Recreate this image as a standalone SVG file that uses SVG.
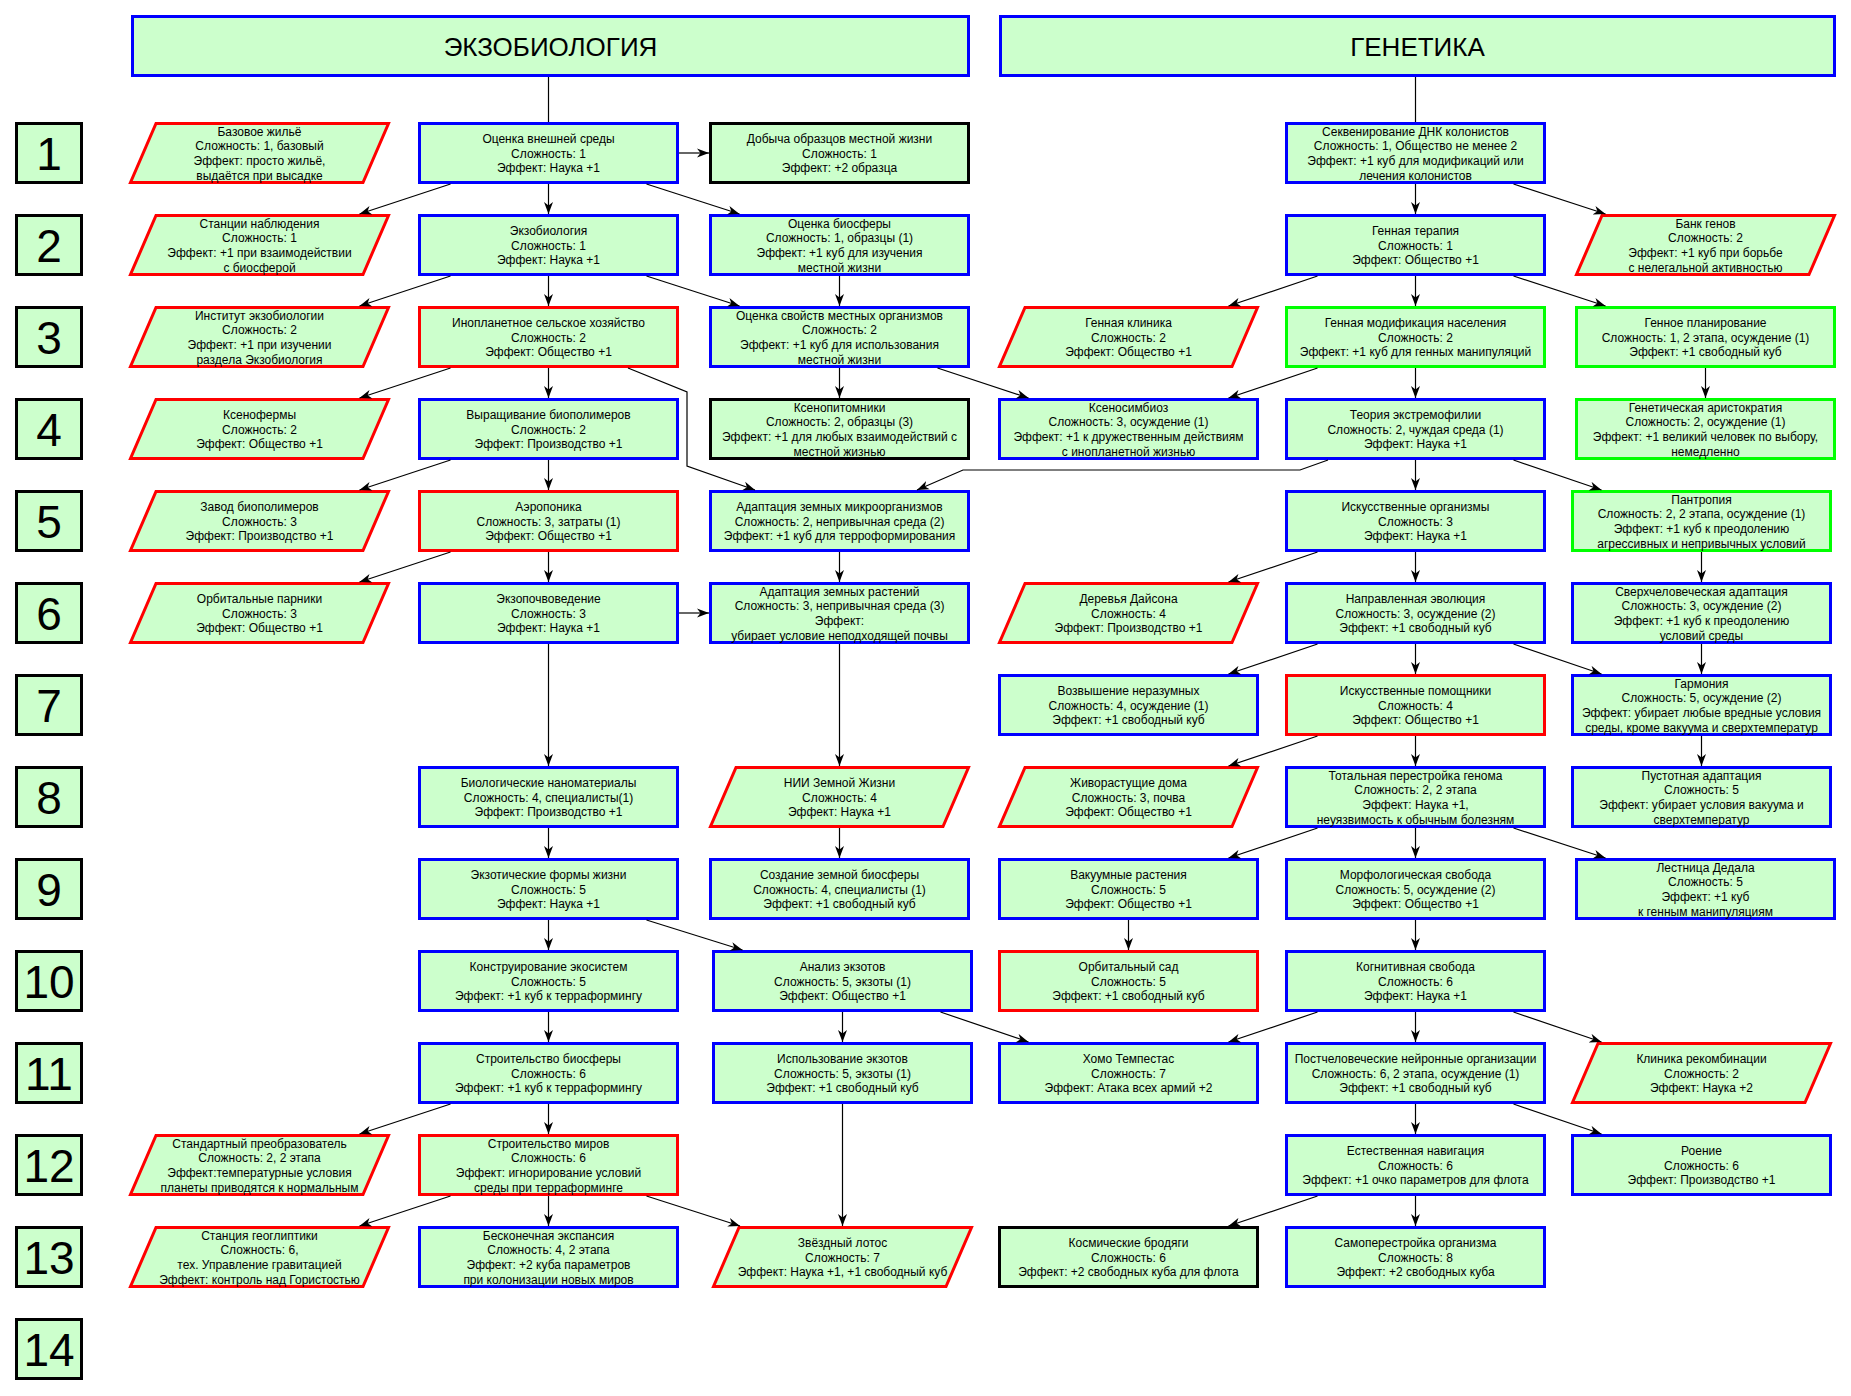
<svg xmlns="http://www.w3.org/2000/svg" width="1851" height="1396" viewBox="0 0 1851 1396">
<style>
.n rect, .n polygon, .rl rect, .hd rect { fill: #CCFFCC; stroke-width: 3; }
.blue rect, .blue polygon { stroke: #0000FF; }
.red rect, .red polygon { stroke: #FF0000; }
.green rect, .green polygon { stroke: #00FF00; }
.black rect, .black polygon, .rl rect { stroke: #000000; }
.hd rect { stroke: #0000FF; }
text { font-family: "Liberation Sans", Arial, sans-serif; text-anchor: middle; fill: #000; }
.n text { font-size: 12px; }
.rl text { font-size: 46px; }
.hd text { font-size: 26px; }
.conn line, .conn polyline { stroke: #000; stroke-width: 1.2; fill: none; }
.conn .a { marker-end: url(#arr); }
</style>
<defs>
<marker id="arr" viewBox="0 0 12 10" refX="12" refY="5" markerWidth="12" markerHeight="10" markerUnits="userSpaceOnUse" orient="auto">
<path d="M0,0.5 L12,5 L0,9.5 L3.5,5 Z" fill="#000"/>
</marker>
</defs>
<rect x="0" y="0" width="1851" height="1396" fill="#FFFFFF"/>

<!-- headers -->
<g id="hdr-exo" class="hd"><rect x="132.5" y="16.5" width="836" height="59"/><text x="550.5" y="55.5">ЭКЗОБИОЛОГИЯ</text></g>
<g id="hdr-gen" class="hd"><rect x="1000.5" y="16.5" width="834" height="59"/><text x="1417.5" y="55.5">ГЕНЕТИКА</text></g>

<!-- row labels -->
<g id="row1" class="rl"><rect x="16.5" y="123.5" width="65" height="59"/><text x="49" y="169.5">1</text></g>
<g id="row2" class="rl"><rect x="16.5" y="215.5" width="65" height="59"/><text x="49" y="261.5">2</text></g>
<g id="row3" class="rl"><rect x="16.5" y="307.5" width="65" height="59"/><text x="49" y="353.5">3</text></g>
<g id="row4" class="rl"><rect x="16.5" y="399.5" width="65" height="59"/><text x="49" y="445.5">4</text></g>
<g id="row5" class="rl"><rect x="16.5" y="491.5" width="65" height="59"/><text x="49" y="537.5">5</text></g>
<g id="row6" class="rl"><rect x="16.5" y="583.5" width="65" height="59"/><text x="49" y="629.5">6</text></g>
<g id="row7" class="rl"><rect x="16.5" y="675.5" width="65" height="59"/><text x="49" y="721.5">7</text></g>
<g id="row8" class="rl"><rect x="16.5" y="767.5" width="65" height="59"/><text x="49" y="813.5">8</text></g>
<g id="row9" class="rl"><rect x="16.5" y="859.5" width="65" height="59"/><text x="49" y="905.5">9</text></g>
<g id="row10" class="rl"><rect x="16.5" y="951.5" width="65" height="59"/><text x="49" y="997.5">10</text></g>
<g id="row11" class="rl"><rect x="16.5" y="1043.5" width="65" height="59"/><text x="49" y="1089.5">11</text></g>
<g id="row12" class="rl"><rect x="16.5" y="1135.5" width="65" height="59"/><text x="49" y="1181.5">12</text></g>
<g id="row13" class="rl"><rect x="16.5" y="1227.5" width="65" height="59"/><text x="49" y="1273.5">13</text></g>
<g id="row14" class="rl"><rect x="16.5" y="1319.5" width="65" height="59"/><text x="49" y="1365.5">14</text></g>

<!-- row 1 -->
<g id="A1" class="n red"><polygon points="156,123.5 388.5,123.5 363,182.5 130.5,182.5"/><text y="135.55"><tspan x="259.5">Базовое жильё</tspan><tspan x="259.5" dy="14.7">Сложность: 1, базовый</tspan><tspan x="259.5" dy="14.7">Эффект: просто жильё,</tspan><tspan x="259.5" dy="14.7">выдаётся при высадке</tspan></text></g>
<g id="B1" class="n blue"><rect x="419.5" y="123.5" width="258" height="59"/><text y="142.9"><tspan x="548.5">Оценка внешней среды</tspan><tspan x="548.5" dy="14.7">Сложность: 1</tspan><tspan x="548.5" dy="14.7">Эффект: Наука +1</tspan></text></g>
<g id="C1" class="n black"><rect x="710.5" y="123.5" width="258" height="59"/><text y="142.9"><tspan x="839.5">Добыча образцов местной жизни</tspan><tspan x="839.5" dy="14.7">Сложность: 1</tspan><tspan x="839.5" dy="14.7">Эффект: +2 образца</tspan></text></g>
<g id="E1" class="n blue"><rect x="1286.5" y="123.5" width="258" height="59"/><text y="135.55"><tspan x="1415.5">Секвенирование ДНК колонистов</tspan><tspan x="1415.5" dy="14.7">Сложность: 1, Общество не менее 2</tspan><tspan x="1415.5" dy="14.7">Эффект: +1 куб для модификаций или</tspan><tspan x="1415.5" dy="14.7">лечения колонистов</tspan></text></g>

<!-- row 2 -->
<g id="A2" class="n red"><polygon points="156,215.5 388.5,215.5 363,274.5 130.5,274.5"/><text y="227.55"><tspan x="259.5">Станции наблюдения</tspan><tspan x="259.5" dy="14.7">Сложность: 1</tspan><tspan x="259.5" dy="14.7">Эффект: +1 при взаимодействии</tspan><tspan x="259.5" dy="14.7">с биосферой</tspan></text></g>
<g id="B2" class="n blue"><rect x="419.5" y="215.5" width="258" height="59"/><text y="234.9"><tspan x="548.5">Экзобиология</tspan><tspan x="548.5" dy="14.7">Сложность: 1</tspan><tspan x="548.5" dy="14.7">Эффект: Наука +1</tspan></text></g>
<g id="C2" class="n blue"><rect x="710.5" y="215.5" width="258" height="59"/><text y="227.55"><tspan x="839.5">Оценка биосферы</tspan><tspan x="839.5" dy="14.7">Сложность: 1, образцы (1)</tspan><tspan x="839.5" dy="14.7">Эффект: +1 куб для изучения</tspan><tspan x="839.5" dy="14.7">местной жизни</tspan></text></g>
<g id="E2" class="n blue"><rect x="1286.5" y="215.5" width="258" height="59"/><text y="234.9"><tspan x="1415.5">Генная терапия</tspan><tspan x="1415.5" dy="14.7">Сложность: 1</tspan><tspan x="1415.5" dy="14.7">Эффект: Общество +1</tspan></text></g>
<g id="F2" class="n red"><polygon points="1602,215.5 1834.5,215.5 1809,274.5 1576.5,274.5"/><text y="227.55"><tspan x="1705.5">Банк генов</tspan><tspan x="1705.5" dy="14.7">Сложность: 2</tspan><tspan x="1705.5" dy="14.7">Эффект: +1 куб при борьбе</tspan><tspan x="1705.5" dy="14.7">с нелегальной активностью</tspan></text></g>

<!-- row 3 -->
<g id="A3" class="n red"><polygon points="156,307.5 388.5,307.5 363,366.5 130.5,366.5"/><text y="319.55"><tspan x="259.5">Институт экзобиологии</tspan><tspan x="259.5" dy="14.7">Сложность: 2</tspan><tspan x="259.5" dy="14.7">Эффект: +1 при изучении</tspan><tspan x="259.5" dy="14.7">раздела Экзобиология</tspan></text></g>
<g id="B3" class="n red"><rect x="419.5" y="307.5" width="258" height="59"/><text y="326.9"><tspan x="548.5">Инопланетное сельское хозяйство</tspan><tspan x="548.5" dy="14.7">Сложность: 2</tspan><tspan x="548.5" dy="14.7">Эффект: Общество +1</tspan></text></g>
<g id="C3" class="n blue"><rect x="710.5" y="307.5" width="258" height="59"/><text y="319.55"><tspan x="839.5">Оценка свойств местных организмов</tspan><tspan x="839.5" dy="14.7">Сложность: 2</tspan><tspan x="839.5" dy="14.7">Эффект: +1 куб для использования</tspan><tspan x="839.5" dy="14.7">местной жизни</tspan></text></g>
<g id="D3" class="n red"><polygon points="1025,307.5 1257.5,307.5 1232,366.5 999.5,366.5"/><text y="326.9"><tspan x="1128.5">Генная клиника</tspan><tspan x="1128.5" dy="14.7">Сложность: 2</tspan><tspan x="1128.5" dy="14.7">Эффект: Общество +1</tspan></text></g>
<g id="E3" class="n green"><rect x="1286.5" y="307.5" width="258" height="59"/><text y="326.9"><tspan x="1415.5">Генная модификация населения</tspan><tspan x="1415.5" dy="14.7">Сложность: 2</tspan><tspan x="1415.5" dy="14.7">Эффект: +1 куб для генных манипуляций</tspan></text></g>
<g id="F3" class="n green"><rect x="1576.5" y="307.5" width="258" height="59"/><text y="326.9"><tspan x="1705.5">Генное планирование</tspan><tspan x="1705.5" dy="14.7">Сложность: 1, 2 этапа, осуждение (1)</tspan><tspan x="1705.5" dy="14.7">Эффект: +1 свободный куб</tspan></text></g>

<!-- row 4 -->
<g id="A4" class="n red"><polygon points="156,399.5 388.5,399.5 363,458.5 130.5,458.5"/><text y="418.9"><tspan x="259.5">Ксенофермы</tspan><tspan x="259.5" dy="14.7">Сложность: 2</tspan><tspan x="259.5" dy="14.7">Эффект: Общество +1</tspan></text></g>
<g id="B4" class="n blue"><rect x="419.5" y="399.5" width="258" height="59"/><text y="418.9"><tspan x="548.5">Выращивание биополимеров</tspan><tspan x="548.5" dy="14.7">Сложность: 2</tspan><tspan x="548.5" dy="14.7">Эффект: Производство +1</tspan></text></g>
<g id="C4" class="n black"><rect x="710.5" y="399.5" width="258" height="59"/><text y="411.55"><tspan x="839.5">Ксенопитомники</tspan><tspan x="839.5" dy="14.7">Сложность: 2, образцы (3)</tspan><tspan x="839.5" dy="14.7">Эффект: +1 для любых взаимодействий с</tspan><tspan x="839.5" dy="14.7">местной жизнью</tspan></text></g>
<g id="D4" class="n blue"><rect x="999.5" y="399.5" width="258" height="59"/><text y="411.55"><tspan x="1128.5">Ксеносимбиоз</tspan><tspan x="1128.5" dy="14.7">Сложность: 3, осуждение (1)</tspan><tspan x="1128.5" dy="14.7">Эффект: +1 к дружественным действиям</tspan><tspan x="1128.5" dy="14.7">с инопланетной жизнью</tspan></text></g>
<g id="E4" class="n blue"><rect x="1286.5" y="399.5" width="258" height="59"/><text y="418.9"><tspan x="1415.5">Теория экстремофилии</tspan><tspan x="1415.5" dy="14.7">Сложность: 2, чуждая среда (1)</tspan><tspan x="1415.5" dy="14.7">Эффект: Наука +1</tspan></text></g>
<g id="F4" class="n green"><rect x="1576.5" y="399.5" width="258" height="59"/><text y="411.55"><tspan x="1705.5">Генетическая аристократия</tspan><tspan x="1705.5" dy="14.7">Сложность: 2, осуждение (1)</tspan><tspan x="1705.5" dy="14.7">Эффект: +1 великий человек по выбору,</tspan><tspan x="1705.5" dy="14.7">немедленно</tspan></text></g>

<!-- row 5 -->
<g id="A5" class="n red"><polygon points="156,491.5 388.5,491.5 363,550.5 130.5,550.5"/><text y="510.9"><tspan x="259.5">Завод биополимеров</tspan><tspan x="259.5" dy="14.7">Сложность: 3</tspan><tspan x="259.5" dy="14.7">Эффект: Производство +1</tspan></text></g>
<g id="B5" class="n red"><rect x="419.5" y="491.5" width="258" height="59"/><text y="510.9"><tspan x="548.5">Аэропоника</tspan><tspan x="548.5" dy="14.7">Сложность: 3, затраты (1)</tspan><tspan x="548.5" dy="14.7">Эффект: Общество +1</tspan></text></g>
<g id="C5" class="n blue"><rect x="710.5" y="491.5" width="258" height="59"/><text y="510.9"><tspan x="839.5">Адаптация земных микроорганизмов</tspan><tspan x="839.5" dy="14.7">Сложность: 2, непривычная среда (2)</tspan><tspan x="839.5" dy="14.7">Эффект: +1 куб для терроформирования</tspan></text></g>
<g id="E5" class="n blue"><rect x="1286.5" y="491.5" width="258" height="59"/><text y="510.9"><tspan x="1415.5">Искусственные организмы</tspan><tspan x="1415.5" dy="14.7">Сложность: 3</tspan><tspan x="1415.5" dy="14.7">Эффект: Наука +1</tspan></text></g>
<g id="F5" class="n green"><rect x="1572.5" y="491.5" width="258" height="59"/><text y="503.55"><tspan x="1701.5">Пантропия</tspan><tspan x="1701.5" dy="14.7">Сложность: 2, 2 этапа, осуждение (1)</tspan><tspan x="1701.5" dy="14.7">Эффект: +1 куб к преодолению</tspan><tspan x="1701.5" dy="14.7">агрессивных и непривычных условий</tspan></text></g>

<!-- row 6 -->
<g id="A6" class="n red"><polygon points="156,583.5 388.5,583.5 363,642.5 130.5,642.5"/><text y="602.9"><tspan x="259.5">Орбитальные парники</tspan><tspan x="259.5" dy="14.7">Сложность: 3</tspan><tspan x="259.5" dy="14.7">Эффект: Общество +1</tspan></text></g>
<g id="B6" class="n blue"><rect x="419.5" y="583.5" width="258" height="59"/><text y="602.9"><tspan x="548.5">Экзопочвоведение</tspan><tspan x="548.5" dy="14.7">Сложность: 3</tspan><tspan x="548.5" dy="14.7">Эффект: Наука +1</tspan></text></g>
<g id="C6" class="n blue"><rect x="710.5" y="583.5" width="258" height="59"/><text y="595.55"><tspan x="839.5">Адаптация земных растений</tspan><tspan x="839.5" dy="14.7">Сложность: 3, непривычная среда (3)</tspan><tspan x="839.5" dy="14.7">Эффект:</tspan><tspan x="839.5" dy="14.7">убирает условие неподходящей почвы</tspan></text></g>
<g id="D6" class="n red"><polygon points="1025,583.5 1257.5,583.5 1232,642.5 999.5,642.5"/><text y="602.9"><tspan x="1128.5">Деревья Дайсона</tspan><tspan x="1128.5" dy="14.7">Сложность: 4</tspan><tspan x="1128.5" dy="14.7">Эффект: Производство +1</tspan></text></g>
<g id="E6" class="n blue"><rect x="1286.5" y="583.5" width="258" height="59"/><text y="602.9"><tspan x="1415.5">Направленная эволюция</tspan><tspan x="1415.5" dy="14.7">Сложность: 3, осуждение (2)</tspan><tspan x="1415.5" dy="14.7">Эффект: +1 свободный куб</tspan></text></g>
<g id="F6" class="n blue"><rect x="1572.5" y="583.5" width="258" height="59"/><text y="595.55"><tspan x="1701.5">Сверхчеловеческая адаптация</tspan><tspan x="1701.5" dy="14.7">Сложность: 3, осуждение (2)</tspan><tspan x="1701.5" dy="14.7">Эффект: +1 куб к преодолению</tspan><tspan x="1701.5" dy="14.7">условий среды</tspan></text></g>

<!-- row 7 -->
<g id="D7" class="n blue"><rect x="999.5" y="675.5" width="258" height="59"/><text y="694.9"><tspan x="1128.5">Возвышение неразумных</tspan><tspan x="1128.5" dy="14.7">Сложность: 4, осуждение (1)</tspan><tspan x="1128.5" dy="14.7">Эффект: +1 свободный куб</tspan></text></g>
<g id="E7" class="n red"><rect x="1286.5" y="675.5" width="258" height="59"/><text y="694.9"><tspan x="1415.5">Искусственные помощники</tspan><tspan x="1415.5" dy="14.7">Сложность: 4</tspan><tspan x="1415.5" dy="14.7">Эффект: Общество +1</tspan></text></g>
<g id="F7" class="n blue"><rect x="1572.5" y="675.5" width="258" height="59"/><text y="687.55"><tspan x="1701.5">Гармония</tspan><tspan x="1701.5" dy="14.7">Сложность: 5, осуждение (2)</tspan><tspan x="1701.5" dy="14.7">Эффект: убирает любые вредные условия</tspan><tspan x="1701.5" dy="14.7">среды, кроме вакуума и сверхтемператур</tspan></text></g>

<!-- row 8 -->
<g id="B8" class="n blue"><rect x="419.5" y="767.5" width="258" height="59"/><text y="786.9"><tspan x="548.5">Биологические наноматериалы</tspan><tspan x="548.5" dy="14.7">Сложность: 4, специалисты(1)</tspan><tspan x="548.5" dy="14.7">Эффект: Производство +1</tspan></text></g>
<g id="C8" class="n red"><polygon points="736,767.5 968.5,767.5 943,826.5 710.5,826.5"/><text y="786.9"><tspan x="839.5">НИИ Земной Жизни</tspan><tspan x="839.5" dy="14.7">Сложность: 4</tspan><tspan x="839.5" dy="14.7">Эффект: Наука +1</tspan></text></g>
<g id="D8" class="n red"><polygon points="1025,767.5 1257.5,767.5 1232,826.5 999.5,826.5"/><text y="786.9"><tspan x="1128.5">Живорастущие дома</tspan><tspan x="1128.5" dy="14.7">Сложность: 3, почва</tspan><tspan x="1128.5" dy="14.7">Эффект: Общество +1</tspan></text></g>
<g id="E8" class="n blue"><rect x="1286.5" y="767.5" width="258" height="59"/><text y="779.55"><tspan x="1415.5">Тотальная перестройка генома</tspan><tspan x="1415.5" dy="14.7">Сложность: 2, 2 этапа</tspan><tspan x="1415.5" dy="14.7">Эффект: Наука +1,</tspan><tspan x="1415.5" dy="14.7">неуязвимость к обычным болезням</tspan></text></g>
<g id="F8" class="n blue"><rect x="1572.5" y="767.5" width="258" height="59"/><text y="779.55"><tspan x="1701.5">Пустотная адаптация</tspan><tspan x="1701.5" dy="14.7">Сложность: 5</tspan><tspan x="1701.5" dy="14.7">Эффект: убирает условия вакуума и</tspan><tspan x="1701.5" dy="14.7">сверхтемператур</tspan></text></g>

<!-- row 9 -->
<g id="B9" class="n blue"><rect x="419.5" y="859.5" width="258" height="59"/><text y="878.9"><tspan x="548.5">Экзотические формы жизни</tspan><tspan x="548.5" dy="14.7">Сложность: 5</tspan><tspan x="548.5" dy="14.7">Эффект: Наука +1</tspan></text></g>
<g id="C9" class="n blue"><rect x="710.5" y="859.5" width="258" height="59"/><text y="878.9"><tspan x="839.5">Создание земной биосферы</tspan><tspan x="839.5" dy="14.7">Сложность: 4, специалисты (1)</tspan><tspan x="839.5" dy="14.7">Эффект: +1 свободный куб</tspan></text></g>
<g id="D9" class="n blue"><rect x="999.5" y="859.5" width="258" height="59"/><text y="878.9"><tspan x="1128.5">Вакуумные растения</tspan><tspan x="1128.5" dy="14.7">Сложность: 5</tspan><tspan x="1128.5" dy="14.7">Эффект: Общество +1</tspan></text></g>
<g id="E9" class="n blue"><rect x="1286.5" y="859.5" width="258" height="59"/><text y="878.9"><tspan x="1415.5">Морфологическая свобода</tspan><tspan x="1415.5" dy="14.7">Сложность: 5, осуждение (2)</tspan><tspan x="1415.5" dy="14.7">Эффект: Общество +1</tspan></text></g>
<g id="F9" class="n blue"><rect x="1576.5" y="859.5" width="258" height="59"/><text y="871.55"><tspan x="1705.5">Лестница Дедала</tspan><tspan x="1705.5" dy="14.7">Сложность: 5</tspan><tspan x="1705.5" dy="14.7">Эффект: +1 куб</tspan><tspan x="1705.5" dy="14.7">к генным манипуляциям</tspan></text></g>

<!-- row 10 -->
<g id="B10" class="n blue"><rect x="419.5" y="951.5" width="258" height="59"/><text y="970.9"><tspan x="548.5">Конструирование экосистем</tspan><tspan x="548.5" dy="14.7">Сложность: 5</tspan><tspan x="548.5" dy="14.7">Эффект: +1 куб к терраформингу</tspan></text></g>
<g id="C10" class="n blue"><rect x="713.5" y="951.5" width="258" height="59"/><text y="970.9"><tspan x="842.5">Анализ экзотов</tspan><tspan x="842.5" dy="14.7">Сложность: 5, экзоты (1)</tspan><tspan x="842.5" dy="14.7">Эффект: Общество +1</tspan></text></g>
<g id="D10" class="n red"><rect x="999.5" y="951.5" width="258" height="59"/><text y="970.9"><tspan x="1128.5">Орбитальный сад</tspan><tspan x="1128.5" dy="14.7">Сложность: 5</tspan><tspan x="1128.5" dy="14.7">Эффект: +1 свободный куб</tspan></text></g>
<g id="E10" class="n blue"><rect x="1286.5" y="951.5" width="258" height="59"/><text y="970.9"><tspan x="1415.5">Когнитивная свобода</tspan><tspan x="1415.5" dy="14.7">Сложность: 6</tspan><tspan x="1415.5" dy="14.7">Эффект: Наука +1</tspan></text></g>

<!-- row 11 -->
<g id="B11" class="n blue"><rect x="419.5" y="1043.5" width="258" height="59"/><text y="1062.9"><tspan x="548.5">Строительство биосферы</tspan><tspan x="548.5" dy="14.7">Сложность: 6</tspan><tspan x="548.5" dy="14.7">Эффект: +1 куб к терраформингу</tspan></text></g>
<g id="C11" class="n blue"><rect x="713.5" y="1043.5" width="258" height="59"/><text y="1062.9"><tspan x="842.5">Использование экзотов</tspan><tspan x="842.5" dy="14.7">Сложность: 5, экзоты (1)</tspan><tspan x="842.5" dy="14.7">Эффект: +1 свободный куб</tspan></text></g>
<g id="D11" class="n blue"><rect x="999.5" y="1043.5" width="258" height="59"/><text y="1062.9"><tspan x="1128.5">Хомо Темпестас</tspan><tspan x="1128.5" dy="14.7">Сложность: 7</tspan><tspan x="1128.5" dy="14.7">Эффект: Атака всех армий +2</tspan></text></g>
<g id="E11" class="n blue"><rect x="1286.5" y="1043.5" width="258" height="59"/><text y="1062.9"><tspan x="1415.5">Постчеловеческие нейронные организации</tspan><tspan x="1415.5" dy="14.7">Сложность: 6, 2 этапа, осуждение (1)</tspan><tspan x="1415.5" dy="14.7">Эффект: +1 свободный куб</tspan></text></g>
<g id="F11" class="n red"><polygon points="1598,1043.5 1830.5,1043.5 1805,1102.5 1572.5,1102.5"/><text y="1062.9"><tspan x="1701.5">Клиника рекомбинации</tspan><tspan x="1701.5" dy="14.7">Сложность: 2</tspan><tspan x="1701.5" dy="14.7">Эффект: Наука +2</tspan></text></g>

<!-- row 12 -->
<g id="A12" class="n red"><polygon points="156,1135.5 388.5,1135.5 363,1194.5 130.5,1194.5"/><text y="1147.55"><tspan x="259.5">Стандартный преобразователь</tspan><tspan x="259.5" dy="14.7">Сложность: 2, 2 этапа</tspan><tspan x="259.5" dy="14.7">Эффект:температурные условия</tspan><tspan x="259.5" dy="14.7">планеты приводятся к нормальным</tspan></text></g>
<g id="B12" class="n red"><rect x="419.5" y="1135.5" width="258" height="59"/><text y="1147.55"><tspan x="548.5">Строительство миров</tspan><tspan x="548.5" dy="14.7">Сложность: 6</tspan><tspan x="548.5" dy="14.7">Эффект: игнорирование условий</tspan><tspan x="548.5" dy="14.7">среды при терраформинге</tspan></text></g>
<g id="E12" class="n blue"><rect x="1286.5" y="1135.5" width="258" height="59"/><text y="1154.9"><tspan x="1415.5">Естественная навигация</tspan><tspan x="1415.5" dy="14.7">Сложность: 6</tspan><tspan x="1415.5" dy="14.7">Эффект: +1 очко параметров для флота</tspan></text></g>
<g id="F12" class="n blue"><rect x="1572.5" y="1135.5" width="258" height="59"/><text y="1154.9"><tspan x="1701.5">Роение</tspan><tspan x="1701.5" dy="14.7">Сложность: 6</tspan><tspan x="1701.5" dy="14.7">Эффект: Производство +1</tspan></text></g>

<!-- row 13 -->
<g id="A13" class="n red"><polygon points="156,1227.5 388.5,1227.5 363,1286.5 130.5,1286.5"/><text y="1239.55"><tspan x="259.5">Станция геоглиптики</tspan><tspan x="259.5" dy="14.7">Сложность: 6,</tspan><tspan x="259.5" dy="14.7">тех. Управление гравитацией</tspan><tspan x="259.5" dy="14.7">Эффект: контроль над Гористостью</tspan></text></g>
<g id="B13" class="n blue"><rect x="419.5" y="1227.5" width="258" height="59"/><text y="1239.55"><tspan x="548.5">Бесконечная экспансия</tspan><tspan x="548.5" dy="14.7">Сложность: 4, 2 этапа</tspan><tspan x="548.5" dy="14.7">Эффект: +2 куба параметров</tspan><tspan x="548.5" dy="14.7">при колонизации новых миров</tspan></text></g>
<g id="C13" class="n red"><polygon points="739,1227.5 971.5,1227.5 946,1286.5 713.5,1286.5"/><text y="1246.9"><tspan x="842.5">Звёздный лотос</tspan><tspan x="842.5" dy="14.7">Сложность: 7</tspan><tspan x="842.5" dy="14.7">Эффект: Наука +1, +1 свободный куб</tspan></text></g>
<g id="D13" class="n black"><rect x="999.5" y="1227.5" width="258" height="59"/><text y="1246.9"><tspan x="1128.5">Космические бродяги</tspan><tspan x="1128.5" dy="14.7">Сложность: 6</tspan><tspan x="1128.5" dy="14.7">Эффект: +2 свободных куба для флота</tspan></text></g>
<g id="E13" class="n blue"><rect x="1286.5" y="1227.5" width="258" height="59"/><text y="1246.9"><tspan x="1415.5">Самоперестройка организма</tspan><tspan x="1415.5" dy="14.7">Сложность: 8</tspan><tspan x="1415.5" dy="14.7">Эффект: +2 свободных куба</tspan></text></g>

<!-- connectors -->
<g id="connectors" class="conn">
<line x1="548.5" y1="77" x2="548.5" y2="122"/>
<line x1="1415.5" y1="77" x2="1415.5" y2="122"/>
<line class="a" x1="679" y1="153" x2="709" y2="153"/>
<line class="a" x1="450.5" y1="184" x2="359.5" y2="214"/>
<line class="a" x1="548.5" y1="184" x2="548.5" y2="214"/>
<line class="a" x1="646.5" y1="184" x2="739.5" y2="214"/>
<line class="a" x1="450.5" y1="276" x2="359.5" y2="306"/>
<line class="a" x1="548.5" y1="276" x2="548.5" y2="306"/>
<line class="a" x1="646.5" y1="276" x2="739.5" y2="306"/>
<line class="a" x1="839.5" y1="276" x2="839.5" y2="306"/>
<line class="a" x1="450.5" y1="368" x2="359.5" y2="398"/>
<line class="a" x1="548.5" y1="368" x2="548.5" y2="398"/>
<polyline class="a" points="628,368 687,392 687,466 755,490"/>
<line class="a" x1="839.5" y1="368" x2="839.5" y2="398"/>
<line class="a" x1="937.5" y1="368" x2="1028.5" y2="398"/>
<line class="a" x1="1415.5" y1="184" x2="1415.5" y2="214"/>
<line class="a" x1="1513.5" y1="184" x2="1605.5" y2="214"/>
<line class="a" x1="1317.5" y1="276" x2="1228.5" y2="306"/>
<line class="a" x1="1415.5" y1="276" x2="1415.5" y2="306"/>
<line class="a" x1="1513.5" y1="276" x2="1605.5" y2="306"/>
<line class="a" x1="1317.5" y1="368" x2="1228.5" y2="398"/>
<line class="a" x1="1415.5" y1="368" x2="1415.5" y2="398"/>
<line class="a" x1="1705.5" y1="368" x2="1705.5" y2="398"/>
<line class="a" x1="450.5" y1="460" x2="359.5" y2="490"/>
<line class="a" x1="548.5" y1="460" x2="548.5" y2="490"/>
<polyline class="a" points="1328,460 1300,470 963,470 917,490"/>
<line class="a" x1="1415.5" y1="460" x2="1415.5" y2="490"/>
<line class="a" x1="1513.5" y1="460" x2="1601.5" y2="490"/>
<line class="a" x1="450.5" y1="552" x2="359.5" y2="582"/>
<line class="a" x1="548.5" y1="552" x2="548.5" y2="582"/>
<line class="a" x1="839.5" y1="552" x2="839.5" y2="582"/>
<line class="a" x1="1317.5" y1="552" x2="1228.5" y2="582"/>
<line class="a" x1="1415.5" y1="552" x2="1415.5" y2="582"/>
<line class="a" x1="1701.5" y1="552" x2="1701.5" y2="582"/>
<line class="a" x1="679" y1="613" x2="709" y2="613"/>
<line class="a" x1="548.5" y1="644" x2="548.5" y2="766"/>
<line class="a" x1="839.5" y1="644" x2="839.5" y2="766"/>
<line class="a" x1="1317.5" y1="644" x2="1228.5" y2="674"/>
<line class="a" x1="1415.5" y1="644" x2="1415.5" y2="674"/>
<line class="a" x1="1513.5" y1="644" x2="1601.5" y2="674"/>
<line class="a" x1="1701.5" y1="644" x2="1701.5" y2="674"/>
<line class="a" x1="1317.5" y1="736" x2="1228.5" y2="766"/>
<line class="a" x1="1415.5" y1="736" x2="1415.5" y2="766"/>
<line class="a" x1="1701.5" y1="736" x2="1701.5" y2="766"/>
<line class="a" x1="548.5" y1="828" x2="548.5" y2="858"/>
<line class="a" x1="839.5" y1="828" x2="839.5" y2="858"/>
<line class="a" x1="1317.5" y1="828" x2="1228.5" y2="858"/>
<line class="a" x1="1415.5" y1="828" x2="1415.5" y2="858"/>
<line class="a" x1="1513.5" y1="828" x2="1605.5" y2="858"/>
<line class="a" x1="548.5" y1="920" x2="548.5" y2="950"/>
<line class="a" x1="646.5" y1="920" x2="742.5" y2="950"/>
<line class="a" x1="1128.5" y1="920" x2="1128.5" y2="950"/>
<line class="a" x1="1415.5" y1="920" x2="1415.5" y2="950"/>
<line class="a" x1="548.5" y1="1012" x2="548.5" y2="1042"/>
<line class="a" x1="842.5" y1="1012" x2="842.5" y2="1042"/>
<line class="a" x1="940.5" y1="1012" x2="1028.5" y2="1042"/>
<line class="a" x1="1317.5" y1="1012" x2="1228.5" y2="1042"/>
<line class="a" x1="1415.5" y1="1012" x2="1415.5" y2="1042"/>
<line class="a" x1="1513.5" y1="1012" x2="1601.5" y2="1042"/>
<line class="a" x1="450.5" y1="1104" x2="359.5" y2="1134"/>
<line class="a" x1="548.5" y1="1104" x2="548.5" y2="1134"/>
<line class="a" x1="1415.5" y1="1104" x2="1415.5" y2="1134"/>
<line class="a" x1="1513.5" y1="1104" x2="1601.5" y2="1134"/>
<line class="a" x1="450.5" y1="1196" x2="359.5" y2="1226"/>
<line class="a" x1="548.5" y1="1196" x2="548.5" y2="1226"/>
<line class="a" x1="646.5" y1="1196" x2="740" y2="1226"/>
<line class="a" x1="842.5" y1="1104" x2="842.5" y2="1226"/>
<line class="a" x1="1317.5" y1="1196" x2="1228.5" y2="1226"/>
<line class="a" x1="1415.5" y1="1196" x2="1415.5" y2="1226"/>
</g>
</svg>
